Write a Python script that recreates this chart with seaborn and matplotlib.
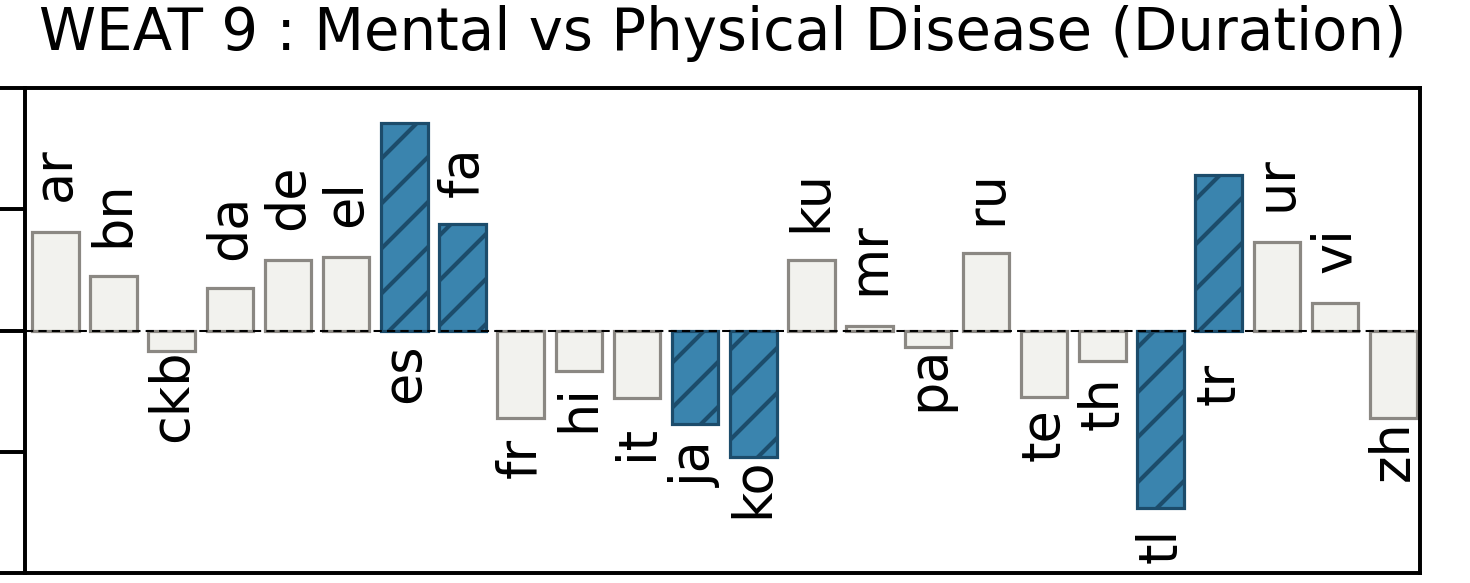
import pandas as pd
import seaborn as sns
import matplotlib.pyplot as plt

# WEAT 9 effect sizes per language
languages = ['ar', 'bn', 'ckb', 'da', 'de', 'el', 'es', 'fa', 'fr', 'hi', 'it', 'ja',
             'ko', 'ku', 'mr', 'pa', 'ru', 'te', 'th', 'tl', 'tr', 'ur', 'vi', 'zh']
effect_size = [0.81, 0.45, -0.17, 0.35, 0.58, 0.61, 1.71, 0.88, -0.72, -0.33, -0.56, -0.77,
               -1.04, 0.58, 0.04, -0.14, 0.64, -0.55, -0.25, -1.46, 1.28, 0.73, 0.23, -0.72]
significant = ['es', 'fa', 'ja', 'ko', 'tl', 'tr']

# where each language label sits (centre, in y units)
label_y = [1.29, 0.96, -0.54, 0.85, 1.10, 1.05, -0.35, 1.31, -1.05, -0.64, -0.92, -1.10,
           -1.30, 1.07, 0.59, -0.39, 1.10, -0.86, -0.60, -1.77, -0.44, 1.21, 0.66, -0.99]

title = 'WEAT 9 : Mental vs Physical Disease (Duration)'

sns.set_theme(style='ticks')
plt.rcParams['font.family'] = ['DejaVu Sans']
plt.rcParams['hatch.linewidth'] = 2.2
for key in ['text.color', 'axes.edgecolor', 'xtick.color', 'ytick.color', 'axes.titlecolor']:
    plt.rcParams[key] = 'black'

df = pd.DataFrame({'lang': languages, 'value': effect_size})
df['group'] = df['lang'].apply(lambda l: 'sig' if l in significant else 'ns')

dpi = 135
fig = plt.figure(figsize=(1470 / dpi, 583 / dpi), dpi=dpi)
ax = fig.add_axes([25 / 1470, 10 / 583, 1395 / 1470, 485 / 583])

sns.barplot(
    data=df, x='lang', y='value', hue='group',
    palette={'ns': '#f2f2ee', 'sig': '#3a84ae'}, saturation=1,
    hue_order=['ns', 'sig'], dodge=False, legend=False, width=0.8,
    order=languages, ax=ax
)

styles = {'ns': ('#8b8883', ''), 'sig': ('#1c4c6b', '/')}
for level, container in zip(['ns', 'sig'], ax.containers):
    edge, hatch = styles[level]
    for bar in container:
        bar.set_edgecolor(edge)
        bar.set_linewidth(1.7)
        bar.set_hatch(hatch)

ax.axhline(0, color='black', linestyle='--', linewidth=1.1, dashes=(4, 2.5), zorder=5)

for i, lang in enumerate(languages):
    ax.text(i, label_y[i], lang, rotation=90, ha='center', va='center', fontsize=28)

ax.set_xlim(-0.52, len(languages) - 0.54)
ax.set_ylim(-2, 2)
ax.set_yticks([-2, -1, 0, 1, 2])
ax.set_xticks([])
ax.set_xlabel('')
ax.set_ylabel('')
# tick labels sit outside the cropped area in the reference
ax.tick_params(axis='y', length=13.3, width=2.1, labelleft=False, colors='black')
for side in ['left', 'right', 'top', 'bottom']:
    ax.spines[side].set_visible(True)
    ax.spines[side].set_linewidth(2.1)
    ax.spines[side].set_color('black')
ax.set_title(title, fontsize=30.8, pad=20, color='black')

fig.savefig('out.png', dpi=dpi)
